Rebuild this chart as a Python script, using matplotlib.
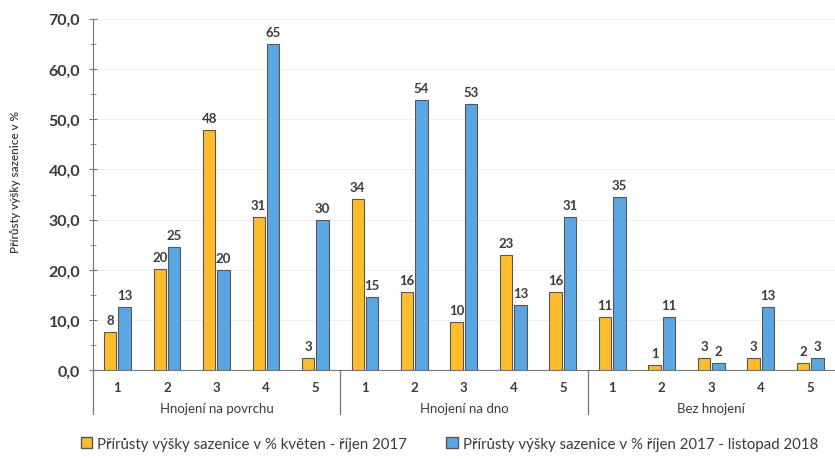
import matplotlib.pyplot as plt
import numpy as np
from matplotlib.ticker import MultipleLocator, FuncFormatter

plt.rcParams['font.family'] = ['Lato', 'DejaVu Sans']

# data
groups = ['Hnojení na povrchu', 'Hnojení na dno', 'Bez hnojení']
plots = ['1', '2', '3', '4', '5']
growth_2017 = [7.6, 20.2, 47.9, 30.5, 2.5,
               34.1, 15.6, 9.6, 23.0, 15.6,
               10.6, 1.0, 2.5, 2.5, 1.5]
growth_2018 = [12.5, 24.5, 20.0, 65.0, 30.0,
               14.6, 53.9, 53.0, 13.0, 30.5,
               34.5, 10.6, 1.5, 12.5, 2.5]
labels_2017 = [8, 20, 48, 31, 3, 34, 16, 10, 23, 16, 11, 1, 3, 3, 2]
labels_2018 = [13, 25, 20, 65, 30, 15, 54, 53, 13, 31, 35, 11, 2, 13, 3]
series_names = ['Přírůsty výšky sazenice v % květen - říjen 2017',
                'Přírůsty výšky sazenice v % říjen 2017 - listopad 2018']

orange = '#FBBD2C'
blue = '#5AA6E3'
edge = '#5a5555'
txt = '#3f3a3a'

fig = plt.figure(figsize=(8.35, 4.6), dpi=100)
ax = fig.add_axes([0.111, 0.193, 0.889, 0.764])

x = np.arange(len(growth_2017))
w = 0.25
b1 = ax.bar(x - w / 2 - 0.02, growth_2017, w, color=orange, edgecolor=edge, linewidth=0.8, zorder=3)
b2 = ax.bar(x + w / 2 + 0.02, growth_2018, w, color=blue, edgecolor=edge, linewidth=0.8, zorder=3)

for bar, lab in zip(b1, labels_2017):
    ax.text(bar.get_x() + bar.get_width() / 2, bar.get_height() + 1.2, str(lab),
            ha='center', va='bottom', fontsize=9.5, fontweight='bold', color=txt)
for bar, lab in zip(b2, labels_2018):
    ax.text(bar.get_x() + bar.get_width() / 2, bar.get_height() + 1.2, str(lab),
            ha='center', va='bottom', fontsize=9.5, fontweight='bold', color=txt)

ax.set_xlim(-0.5, len(x) - 0.5)
ax.set_ylim(0, 70)
ax.yaxis.set_major_locator(MultipleLocator(10))
ax.yaxis.set_minor_locator(MultipleLocator(5))
ax.yaxis.set_major_formatter(FuncFormatter(lambda v, p: f'{v:.1f}'.replace('.', ',')))
ax.tick_params(axis='y', which='major', length=6, width=0.8, color='#777', direction='inout',
               labelsize=11.5, labelcolor=txt, pad=6)
ax.tick_params(axis='y', which='minor', length=4, width=0.8, color='#999', direction='inout')
for t in ax.get_yticklabels():
    t.set_fontweight('bold')
ax.grid(axis='y', color='#f0f0f0', linewidth=0.8, zorder=0)

ax.set_xticks(x)
ax.set_xticklabels(plots * len(groups), fontsize=9.5, fontweight='bold', color=txt)
ax.tick_params(axis='x', length=0, pad=8)

for s in ['top', 'right']:
    ax.spines[s].set_visible(False)
ax.spines['left'].set_color('#777')
ax.spines['bottom'].set_color('#777')

trans = ax.get_xaxis_transform()
for i in range(len(groups)):
    sep = i * len(plots) - 0.5
    ax.plot([sep, sep], [0, -0.125], transform=trans, color='#777', linewidth=0.9, clip_on=False)
    ax.text(i * len(plots) + 2, -0.108, groups[i], transform=trans, ha='center', va='center',
            fontsize=9.5, color=txt)

ax.set_ylabel('Přírůsty výšky sazenice v %', fontsize=8.5, fontweight='semibold', color=txt)
ax.yaxis.set_label_coords(-0.097, 0.54)

handles = [plt.Rectangle((0, 0), 1, 1, facecolor=orange, edgecolor=edge),
           plt.Rectangle((0, 0), 1, 1, facecolor=blue, edgecolor=edge)]
fig.legend(handles, series_names, loc='lower left', bbox_to_anchor=(0.097, 0.018), ncol=2,
           frameon=False, fontsize=10.8, handlelength=0.75, handleheight=0.75, handletextpad=0.35,
           columnspacing=2.6, borderpad=0, borderaxespad=0, labelcolor=txt)

fig.savefig('out.png', dpi=100)
